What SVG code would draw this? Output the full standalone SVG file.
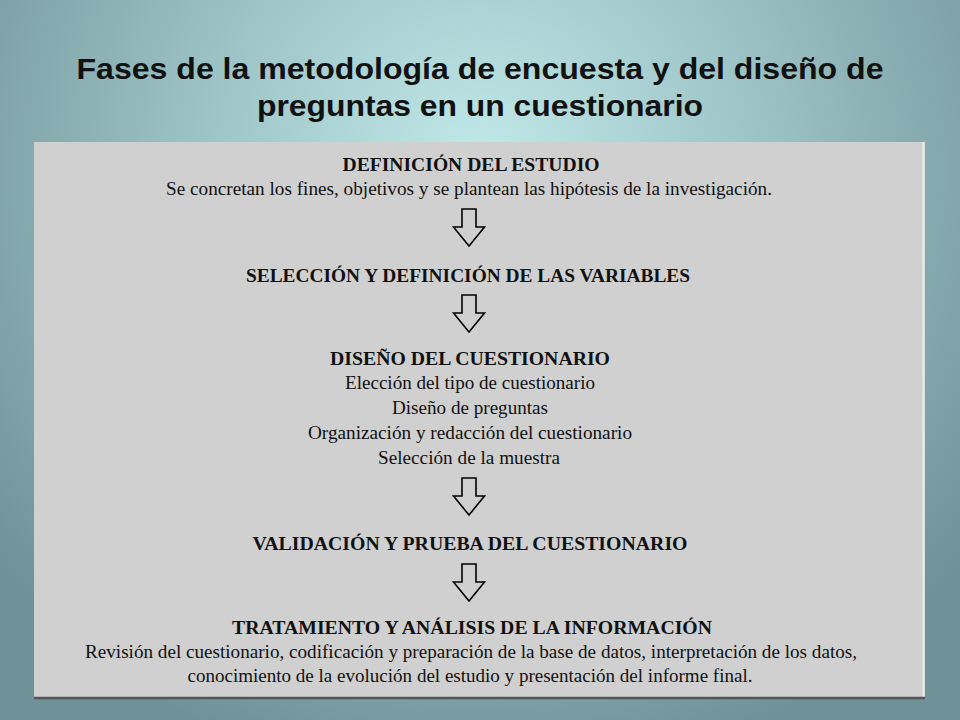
<svg xmlns="http://www.w3.org/2000/svg" width="960" height="720" viewBox="0 0 960 720">
<defs>
<radialGradient id="bg" cx="480" cy="170" r="620" gradientUnits="userSpaceOnUse">
<stop offset="0" stop-color="#c2eaea"/>
<stop offset="0.45" stop-color="#9cc3c6"/>
<stop offset="1" stop-color="#6f9298"/>
</radialGradient>
<path id="arrow" d="M-7,0 H7 V18 H15.5 L0,37 L-15.5,18 H-7 Z"/>
<style>
.title{font-family:"Liberation Sans",Arial,sans-serif;font-weight:bold;font-size:29px;fill:#111;}
.h{font-family:"Liberation Serif","Times New Roman",serif;font-weight:bold;font-size:19px;fill:#111;}
.b{font-family:"Liberation Serif","Times New Roman",serif;font-size:18px;fill:#111;}
.arr{fill:#d0d0d0;stroke:#000;stroke-width:1.6;stroke-linejoin:miter;}
</style>
</defs>
<rect x="0" y="0" width="960" height="720" fill="url(#bg)"/>
<g id="title">
<text class="title" x="480" y="79" text-anchor="middle" textLength="807" lengthAdjust="spacingAndGlyphs">Fases de la metodología de encuesta y del diseño de</text>
<text class="title" x="480" y="116" text-anchor="middle" textLength="446" lengthAdjust="spacingAndGlyphs">preguntas en un cuestionario</text>
</g>
<g id="panel">
<rect x="34" y="142" width="891" height="556" fill="#d0d0d0"/>
<line x1="923.5" y1="142" x2="923.5" y2="697" stroke="#ececec" stroke-width="2"/>
<line x1="34" y1="698" x2="925" y2="698" stroke="#555" stroke-width="2.5"/>
</g>
<g id="n1">
<text class="h" x="471" y="171" text-anchor="middle" textLength="257" lengthAdjust="spacingAndGlyphs">DEFINICIÓN DEL ESTUDIO</text>
<text class="b" x="469" y="195" text-anchor="middle" textLength="606" lengthAdjust="spacingAndGlyphs">Se concretan los fines, objetivos y se plantean las hipótesis de la investigación.</text>
</g>
<g id="n2">
<text class="h" x="468" y="282" text-anchor="middle" textLength="444" lengthAdjust="spacingAndGlyphs">SELECCIÓN Y DEFINICIÓN DE LAS VARIABLES</text>
</g>
<g id="n3">
<text class="h" x="470" y="365" text-anchor="middle" textLength="280" lengthAdjust="spacingAndGlyphs">DISEÑO DEL CUESTIONARIO</text>
<text class="b" x="470" y="389" text-anchor="middle" textLength="250" lengthAdjust="spacingAndGlyphs">Elección del tipo de cuestionario</text>
<text class="b" x="470" y="414" text-anchor="middle" textLength="156" lengthAdjust="spacingAndGlyphs">Diseño de preguntas</text>
<text class="b" x="470" y="439" text-anchor="middle" textLength="324" lengthAdjust="spacingAndGlyphs">Organización y redacción del cuestionario</text>
<text class="b" x="469" y="464" text-anchor="middle" textLength="182" lengthAdjust="spacingAndGlyphs">Selección de la muestra</text>
</g>
<g id="n4">
<text class="h" x="470" y="550" text-anchor="middle" textLength="435" lengthAdjust="spacingAndGlyphs">VALIDACIÓN Y PRUEBA DEL CUESTIONARIO</text>
</g>
<g id="n5">
<text class="h" x="472" y="634" text-anchor="middle" textLength="480" lengthAdjust="spacingAndGlyphs">TRATAMIENTO Y ANÁLISIS DE LA INFORMACIÓN</text>
<text class="b" x="471" y="658" text-anchor="middle" textLength="772" lengthAdjust="spacingAndGlyphs">Revisión del cuestionario, codificación y preparación de la base de datos, interpretación de los datos,</text>
<text class="b" x="470" y="682" text-anchor="middle" textLength="565" lengthAdjust="spacingAndGlyphs">conocimiento de la evolución del estudio y presentación del informe final.</text>
</g>
<g id="connectors">
<use href="#arrow" class="arr" x="469" y="209"/>
<use href="#arrow" class="arr" x="469" y="295"/>
<use href="#arrow" class="arr" x="469" y="478"/>
<use href="#arrow" class="arr" x="469" y="564"/>
</g>
</svg>
